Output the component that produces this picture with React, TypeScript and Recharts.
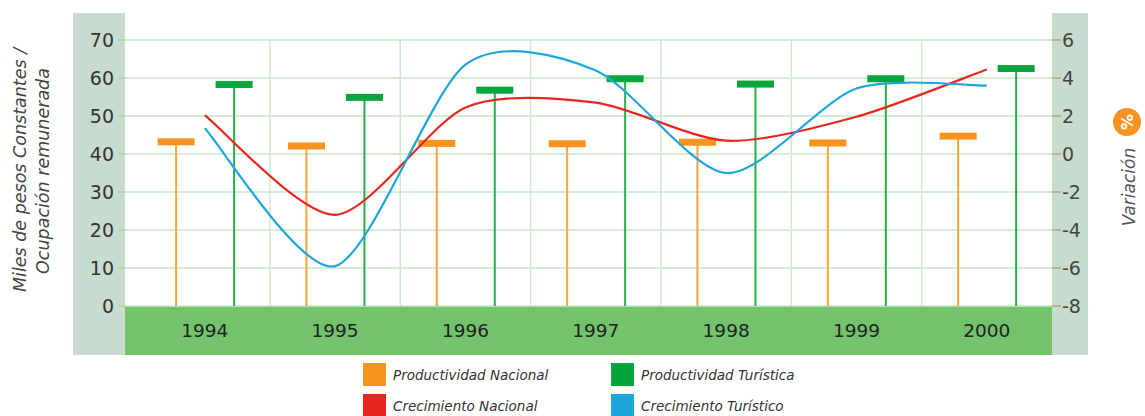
import React from 'react';
import { ComposedChart, Bar, Line, XAxis, YAxis, CartesianGrid, ReferenceLine } from 'recharts';

const years = ['1994', '1995', '1996', '1997', '1998', '1999', '2000'];
const productividadNacional = [43.2, 42.1, 42.8, 42.7, 43.1, 42.9, 44.7];
const productividadTuristica = [58.3, 54.9, 56.8, 59.8, 58.4, 59.8, 62.5];
const crecimientoNacional = [2.05, -3.2, 2.45, 2.7, 0.7, 1.96, 4.45];
const crecimientoTuristico = [1.35, -5.9, 4.7, 4.4, -1.0, 3.45, 3.6];
const leftTicks = [0, 10, 20, 30, 40, 50, 60, 70];
const rightTicks = [-8, -6, -4, -2, 0, 2, 4, 6];

const ORANGE = '#f7931e';
const ORANGE_STEM = '#fba43a';
const GREEN = '#03a63c';
const GREEN_STEM = '#22b14c';
const RED = '#e8261f';
const BLUE = '#1ea6dc';
const FONT = '"DejaVu Sans", Verdana, sans-serif';

const data = years.map((year, i) => ({
  year,
  nacional: productividadNacional[i],
  turistica: productividadTuristica[i],
  crecNacional: crecimientoNacional[i],
  crecTuristico: crecimientoTuristico[i],
}));

// spline cardinal (tension 0 = Catmull-Rom), como curva propia para Recharts
const cardinal = (tension: number) => (context: any) => {
  let pts: [number, number][] = [];
  const k = (1 - tension) / 6;
  return {
    areaStart() {},
    areaEnd() {},
    lineStart() {
      pts = [];
    },
    point(x: number, y: number) {
      pts.push([+x, +y]);
    },
    lineEnd() {
      const n = pts.length;
      if (!n) return;
      context.moveTo(pts[0][0], pts[0][1]);
      for (let i = 0; i < n - 1; i++) {
        const p0 = pts[Math.max(i - 1, 0)];
        const p1 = pts[i];
        const p2 = pts[i + 1];
        const p3 = pts[Math.min(i + 2, n - 1)];
        context.bezierCurveTo(
          p1[0] + k * (p2[0] - p0[0]),
          p1[1] + k * (p2[1] - p0[1]),
          p2[0] - k * (p3[0] - p1[0]),
          p2[1] - k * (p3[1] - p1[1]),
          p2[0],
          p2[1]
        );
      }
    },
  };
};
const smooth = cardinal(0.2);

const stem = (capColor: string, stemColor: string) => (props: any) => {
  const { x, y, width, height } = props;
  const cx = x + width / 2;
  return (
    <g>
      <line x1={cx} x2={cx} y1={y + height} y2={y} stroke={stemColor} strokeWidth={2} />
      <rect x={x} y={y - 3.5} width={width} height={7} fill={capColor} />
    </g>
  );
};

const YearTick = (props: any) => {
  const { x, y, payload } = props;
  return (
    <text x={x} y={y + 31} textAnchor="middle" fontSize={18.5} fill="#222" fontFamily={FONT}>
      {payload.value}
    </text>
  );
};

const legendItems = [
  { label: 'Productividad Nacional', color: ORANGE, left: 363, top: 363 },
  { label: 'Productividad Turística', color: GREEN, left: 611, top: 363 },
  { label: 'Crecimiento Nacional', color: RED, left: 363, top: 394 },
  { label: 'Crecimiento Turístico', color: BLUE, left: 611, top: 394 },
];

export default function App() {
  return (
    <div style={{ position: 'absolute', left: 0, top: 0, width: 1145, height: 416, background: '#fff', overflow: 'hidden', fontFamily: FONT }}>
      {/* bandas de fondo */}
      <div style={{ position: 'absolute', left: 73, top: 13, width: 52, height: 342, background: '#c8dbcf' }} />
      <div style={{ position: 'absolute', left: 1052, top: 13, width: 36, height: 342, background: '#c8dbcf' }} />
      <div style={{ position: 'absolute', left: 125, top: 306, width: 927, height: 49, background: '#73c36c' }} />

      <div style={{ position: 'absolute', left: 0, top: 0 }}>
        <ComposedChart
          width={1145}
          height={416}
          data={data}
          margin={{ top: 40, right: 0, bottom: 80, left: 0 }}
          barSize={37}
          barGap={21}
        >
          <CartesianGrid yAxisId="left" vertical={false} stroke="#c6e8c6" strokeWidth={1.5} />
          <XAxis
            dataKey="year"
            axisLine={false}
            tickLine={false}
            tickSize={0}
            tickMargin={0}
            height={30}
            padding={{ left: 14.6, right: 0 }}
            tick={<YearTick />}
            interval={0}
          />
          <YAxis
            yAxisId="left"
            orientation="left"
            width={125}
            domain={[0, 70]}
            ticks={leftTicks}
            axisLine={false}
            tickSize={7}
            tickMargin={4}
            tickLine={{ stroke: '#a9d9a9', strokeWidth: 1.5 }}
            tick={{ fontSize: 19, fill: '#333', fontFamily: FONT }}
          />
          <YAxis
            yAxisId="right"
            orientation="right"
            width={93}
            domain={[-8, 6]}
            ticks={rightTicks}
            axisLine={false}
            tickSize={9}
            tickMargin={1}
            tickLine={{ stroke: '#b7a57a', strokeWidth: 1.5 }}
            tick={{ fontSize: 19, fill: '#444', fontFamily: FONT, textAnchor: 'start' }}
          />
          {years.slice(1).map((y) => (
            <ReferenceLine key={y} x={y} yAxisId="left" position="start" stroke="#cfe8cf" strokeWidth={1.5} />
          ))}
          <Bar yAxisId="left" dataKey="nacional" fill={ORANGE} shape={stem(ORANGE, ORANGE_STEM)} isAnimationActive={false} />
          <Bar yAxisId="left" dataKey="turistica" fill={GREEN} shape={stem(GREEN, GREEN_STEM)} isAnimationActive={false} />
          <Line yAxisId="right" type={smooth as any} dataKey="crecNacional" stroke={RED} strokeWidth={2.2} dot={false} isAnimationActive={false} />
          <Line yAxisId="right" type={smooth as any} dataKey="crecTuristico" stroke={BLUE} strokeWidth={2.2} dot={false} isAnimationActive={false} />
        </ComposedChart>
      </div>

      {/* titulos de ejes */}
      <svg width={1145} height={416} style={{ position: 'absolute', left: 0, top: 0, pointerEvents: 'none' }}>
        <text transform="translate(26,170) rotate(-90)" textAnchor="middle" fontSize={17.5} fontStyle="italic" fill="#444" fontFamily={FONT}>
          Miles de pesos Constantes /
        </text>
        <text transform="translate(49,171) rotate(-90)" textAnchor="middle" fontSize={17.5} fontStyle="italic" fill="#444" fontFamily={FONT}>
          Ocupación remunerada
        </text>
        <text transform="translate(1135,187) rotate(-90)" textAnchor="middle" fontSize={17} fontStyle="italic" fill="#555" fontFamily={FONT}>
          Variación
        </text>
        <circle cx={1127} cy={122} r={14} fill={ORANGE} />
        <text transform="translate(1133,122) rotate(-90)" textAnchor="middle" fontSize={16} fontWeight="bold" fill="#fff" fontFamily={FONT}>
          %
        </text>
      </svg>

      {/* leyenda */}
      {legendItems.map((item) => (
        <div key={item.label} style={{ position: 'absolute', left: item.left, top: item.top, display: 'flex', alignItems: 'center' }}>
          <div style={{ width: 23, height: 23, background: item.color }} />
          <span style={{ marginLeft: 7, fontSize: 13.5, fontStyle: 'italic', color: '#333' }}>{item.label}</span>
        </div>
      ))}
    </div>
  );
}
